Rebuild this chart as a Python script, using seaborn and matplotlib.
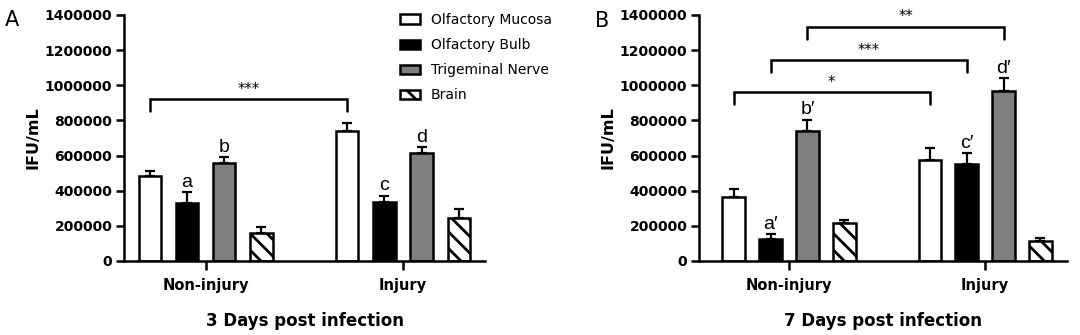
import numpy as np
import pandas as pd
import matplotlib
matplotlib.use("Agg")
import matplotlib.pyplot as plt
from matplotlib.ticker import FixedLocator, StrMethodFormatter
import seaborn as sns

# ---------------- data ----------------
groups = ["Non-injury", "Injury"]
tissues = ["Olfactory Mucosa", "Olfactory Bulb", "Trigeminal Nerve", "Brain"]

# 3 days post infection (mean, SEM)
d3_mucosa = [484000, 740000]
d3_mucosa_err = [31000, 43000]
d3_bulb = [329000, 337000]
d3_bulb_err = [63000, 35000]
d3_trigeminal = [556000, 617000]
d3_trigeminal_err = [37000, 29000]
d3_brain = [161000, 245000]
d3_brain_err = [35000, 53000]

# 7 days post infection (mean, SEM)
d7_mucosa = [364000, 577000]
d7_mucosa_err = [43000, 65000]
d7_bulb = [126000, 553000]
d7_bulb_err = [27000, 61000]
d7_trigeminal = [740000, 968000]
d7_trigeminal_err = [65000, 73000]
d7_brain = [214000, 114000]
d7_brain_err = [20000, 18000]

y_ticks = [0, 200000, 400000, 600000, 800000, 1000000, 1200000, 1400000]

# significance brackets: (tissue, line level, tip level, label)
d3_brackets = [("Olfactory Mucosa", 920000, 852000, "***")]
d7_brackets = [("Olfactory Mucosa", 960000, 895000, "*"),
               ("Olfactory Bulb", 1143000, 1078000, "***"),
               ("Trigeminal Nerve", 1334000, 1265000, "**")]

# letters: (tissue, group index, text)
d3_letters = [("Olfactory Bulb", 0, "a"), ("Trigeminal Nerve", 0, "b"),
              ("Olfactory Bulb", 1, "c"), ("Trigeminal Nerve", 1, "d")]
d7_letters = [("Olfactory Bulb", 0, "a\u2032"), ("Trigeminal Nerve", 0, "b\u2032"),
              ("Olfactory Bulb", 1, "c\u2032"), ("Trigeminal Nerve", 1, "d\u2032")]

# ---------------- style ----------------
sns.set_theme(style="ticks")
plt.rcParams["font.family"] = ["DejaVu Sans"]
plt.rcParams["hatch.linewidth"] = 2.0
plt.rcParams["axes.linewidth"] = 1.8
plt.rcParams["text.color"] = "black"
plt.rcParams["axes.labelcolor"] = "black"
plt.rcParams["xtick.color"] = "black"
plt.rcParams["ytick.color"] = "black"

colors = ["white", "black", "#7f7f7f", "white"]
LW = 1.8


def panel(ax, means, errs, brackets, letters, xlabel, xlim):
    rows = []
    for t in tissues:
        for gi, g in enumerate(groups):
            rows.append({"group": g, "tissue": t, "value": means[t][gi]})
    df = pd.DataFrame(rows)
    sns.barplot(data=df, x="group", y="value", hue="tissue", order=groups,
                hue_order=tissues, palette=colors, saturation=1, width=0.754,
                gap=0.4, edgecolor="black", linewidth=LW, errorbar=None,
                legend=False, ax=ax)
    centers = {}
    tops = {}
    for cont, t in zip(ax.containers, tissues):
        centers[t] = {}
        tops[t] = {}
        for p in cont:
            xc = p.get_x() + p.get_width() / 2
            gi = int(round(xc))
            centers[t][gi] = xc
            h = p.get_height()
            e = errs[t][gi]
            tops[t][gi] = h + e
            if t == "Brain":
                p.set_hatch("\\\\")
            ax.errorbar(xc, h, yerr=[[0], [e]], fmt="none", ecolor="black",
                        elinewidth=1.6, capsize=3.8, capthick=1.6, zorder=3)
    for t, yl, yt, lab in brackets:
        x0, x1 = centers[t][0], centers[t][1]
        ax.plot([x0, x0, x1, x1], [yt, yl, yl, yt], color="black", lw=LW,
                solid_joinstyle="miter", clip_on=False)
        ax.text((x0 + x1) / 2, yl + 12000, lab, ha="center", va="bottom",
                fontsize=10.5, color="black")
    for t, gi, lab in letters:
        ax.text(centers[t][gi], tops[t][gi] + 30000, lab, ha="center",
                va="baseline", fontsize=14, color="black",
                family=["Liberation Sans", "DejaVu Sans"])
    ax.set_ylim(0, 1400000)
    ax.set_xlim(*xlim)
    ax.yaxis.set_major_locator(FixedLocator(y_ticks))
    ax.yaxis.set_major_formatter(StrMethodFormatter("{x:.0f}"))
    ax.set_xlabel(xlabel, fontsize=12, fontweight="bold", labelpad=14,
                  color="black")
    ax.set_ylabel("IFU/mL", fontsize=11.5, fontweight="bold", labelpad=3,
                  color="black")
    ax.tick_params(axis="both", direction="out", width=1.8, length=6,
                   color="black", labelcolor="black")
    ax.tick_params(axis="y", pad=2.4, labelsize=10)
    ax.tick_params(axis="x", pad=5.5, labelsize=10.5, length=6.5)
    for lbl in ax.get_xticklabels() + ax.get_yticklabels():
        lbl.set_fontweight("bold")
    sns.despine(ax=ax)
    for s in ("left", "bottom"):
        ax.spines[s].set_color("black")
        ax.spines[s].set_linewidth(1.8)
    ax.grid(False)
    return ax


fig = plt.figure(figsize=(10.8, 3.35), dpi=100)
fig.patch.set_facecolor("white")
axA = fig.add_axes([124 / 1080, 1 - 261 / 335, (485 - 124) / 1080, (261 - 15) / 335])
axB = fig.add_axes([699 / 1080, 1 - 261 / 335, (1067 - 699) / 1080, (261 - 15) / 335])

d3_means = {tissues[0]: d3_mucosa, tissues[1]: d3_bulb, tissues[2]: d3_trigeminal, tissues[3]: d3_brain}
d3_errs = {tissues[0]: d3_mucosa_err, tissues[1]: d3_bulb_err, tissues[2]: d3_trigeminal_err, tissues[3]: d3_brain_err}
d7_means = {tissues[0]: d7_mucosa, tissues[1]: d7_bulb, tissues[2]: d7_trigeminal, tissues[3]: d7_brain}
d7_errs = {tissues[0]: d7_mucosa_err, tissues[1]: d7_bulb_err, tissues[2]: d7_trigeminal_err, tissues[3]: d7_brain_err}

panel(axA, d3_means, d3_errs, d3_brackets, d3_letters, "3 Days post infection", (-0.413, 1.415))
panel(axB, d7_means, d7_errs, d7_brackets, d7_letters, "7 Days post infection", (-0.459, 1.418))

for ax in (axA, axB):
    ax.set_facecolor("white")

leg = axA.legend(handles=list(axA.containers), labels=tissues, loc="upper left",
                 bbox_to_anchor=(400 / 1080, 1 - 13 / 335), bbox_transform=fig.transFigure,
                 frameon=False, borderpad=0, borderaxespad=0, fontsize=10,
                 handlelength=1.44, handleheight=0.65, handletextpad=0.8,
                 labelspacing=0.8)
for txt in leg.get_texts():
    txt.set_color("black")

fig.text(12 / 1080, 1 - 20 / 335, "A", fontsize=15, ha="center", va="center", color="black")
fig.text(602 / 1080, 1 - 21 / 335, "B", fontsize=15, ha="center", va="center", color="black")

fig.savefig("out.png", dpi=100, facecolor="white")
